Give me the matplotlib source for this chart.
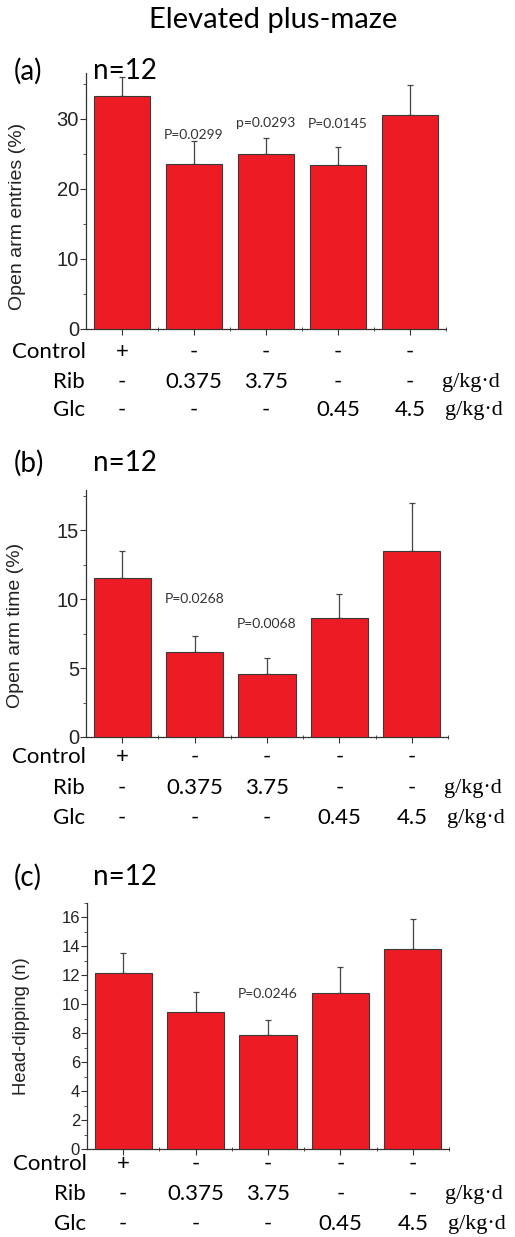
import matplotlib.pyplot as plt
import numpy as np
from matplotlib.ticker import MultipleLocator, FixedLocator

# --- data ---
groups = [1, 2, 3, 4, 5]
control = ["+", "-", "-", "-", "-"]
rib = ["-", "0.375", "3.75", "-", "-"]
glc = ["-", "-", "-", "0.45", "4.5"]

entries = [33.2, 23.5, 24.9, 23.4, 30.5]
entries_err = [2.7, 3.3, 2.4, 2.6, 4.3]
time_pct = [11.5, 6.17, 4.55, 8.64, 13.47]
time_err = [1.97, 1.13, 1.14, 1.69, 3.47]
dipping = [12.15, 9.47, 7.88, 10.77, 13.8]
dipping_err = [1.37, 1.37, 1.06, 1.79, 2.09]

pvals_a = [(2, 27.6, "P=0.0299"), (3, 29.4, "p=0.0293"), (4, 29.2, "P=0.0145")]
pvals_b = [(2, 10.0, "P=0.0268"), (3, 8.2, "P=0.0068")]
pvals_c = [(3, 10.7, "P=0.0246")]

W, H = 515, 1237
fig = plt.figure(figsize=(W / 100, H / 100), dpi=100)
FONT = "Lato"
AX_COL = "#333333"
RED = "#ED1C24"


def box(left, right, top, bottom):
    return [left / W, 1 - bottom / H, (right - left) / W, (bottom - top) / H]


def panel(rect, vals, errs, ymax, major, minor, ylabel, ylabel_size, ylabel_pos,
          tick_size, pvals, rows_dy):
    ax = fig.add_axes(rect)
    ax.bar(groups, vals, width=0.79, color=RED, edgecolor="#3a3a3a", linewidth=0.8, zorder=3)
    ax.errorbar(groups, vals, yerr=[np.zeros(5), errs], fmt="none", ecolor="#444444",
                elinewidth=0.9, capsize=2.5, capthick=0.9, zorder=2)
    ax.set_xlim(0.5, 5.5)
    ax.set_ylim(0, ymax)
    for s in ["top", "right"]:
        ax.spines[s].set_visible(False)
    for s in ["left", "bottom"]:
        ax.spines[s].set_color(AX_COL)
        ax.spines[s].set_linewidth(0.9)
    ax.yaxis.set_major_locator(MultipleLocator(major))
    ax.yaxis.set_minor_locator(MultipleLocator(minor))
    ax.set_xticks(groups)
    ax.set_xticklabels([])
    ax.xaxis.set_minor_locator(FixedLocator([1.5, 2.5, 3.5, 4.5, 5.5]))
    ax.tick_params(axis="y", which="major", direction="out", length=4, width=0.8,
                   color=AX_COL, labelsize=tick_size, pad=1, labelcolor="#222222")
    ax.tick_params(axis="y", which="minor", direction="out", length=2, width=0.6, color=AX_COL)
    ax.tick_params(axis="x", which="major", direction="out", length=4, width=0.8, color=AX_COL)
    ax.tick_params(axis="x", which="minor", direction="inout", length=3, width=0.6, color=AX_COL)
    for lab in ax.get_yticklabels():
        lab.set_fontfamily("Liberation Sans")
    ax.set_ylabel(ylabel, fontsize=ylabel_size, family="Liberation Sans", color="#222222")
    ax.yaxis.set_label_coords(*ylabel_pos)

    for x, y, t in pvals:
        ax.text(x, y, t, ha="center", va="center", fontsize=10, family=FONT, color="#333333", zorder=4)

    rows = [("Control", control), ("Rib", rib), ("Glc", glc)]
    for (name, items), dy in zip(rows, rows_dy):
        for x, t in zip(groups, items):
            ax.annotate(t, xy=(x, 0), xycoords=("data", "axes fraction"),
                        xytext=(0, -dy), textcoords="offset points",
                        ha="center", va="center", fontsize=16, family=FONT, annotation_clip=False)
        if name == "Control":
            ax.annotate(name, xy=(0.5, 0), xycoords=("data", "axes fraction"),
                        xytext=(0, -dy), textcoords="offset points",
                        ha="right", va="center", fontsize=16, family=FONT, annotation_clip=False)
        else:
            ax.annotate(name, xy=(0.5, 0), xycoords=("data", "axes fraction"),
                        xytext=(-24, -dy), textcoords="offset points",
                        ha="left", va="center", fontsize=16, family=FONT, annotation_clip=False)
            ax.annotate("g/kg\u00b7d", xy=(5.5, 0), xycoords=("data", "axes fraction"),
                        xytext=(-3 if name == "Rib" else -1, -dy), textcoords="offset points",
                        ha="left", va="center", fontsize=16, family="Liberation Serif",
                        annotation_clip=False)
    return ax


px = 72 / 100
ax_a = panel(box(86, 446, 73, 329), entries, entries_err, 36.5, 10, 5,
             "Open arm entries (%)", 14, (-0.167, 0.44), 14.5, pvals_a,
             [23 * px, 53 * px, 81 * px])
ax_b = panel(box(86, 448, 490, 737), time_pct, time_err, 17.9, 5, 2.5,
             "Open arm time (%)", 14, (-0.171, 0.453), 14.5, pvals_b,
             [20 * px, 51 * px, 81 * px])
ax_c = panel(box(87, 449, 903, 1149), dipping, dipping_err, 17, 2, 1,
             "Head-dipping (n)", 13.3, (-0.157, 0.5), 12, pvals_c,
             [15 * px, 45 * px, 75 * px])

fig.text(273 / W, 1 - 20 / H, "Elevated plus-maze", ha="center", va="center", fontsize=21, family=FONT)
for lab, y in [("(a)", 71), ("(b)", 463), ("(c)", 877)]:
    fig.text(14 / W, 1 - y / H, lab, ha="left", va="center", fontsize=20, family=FONT)
    fig.text(93 / W, 1 - y / H, "n=12", ha="left", va="center", fontsize=20, family=FONT)

fig.savefig("out.png", dpi=100)
